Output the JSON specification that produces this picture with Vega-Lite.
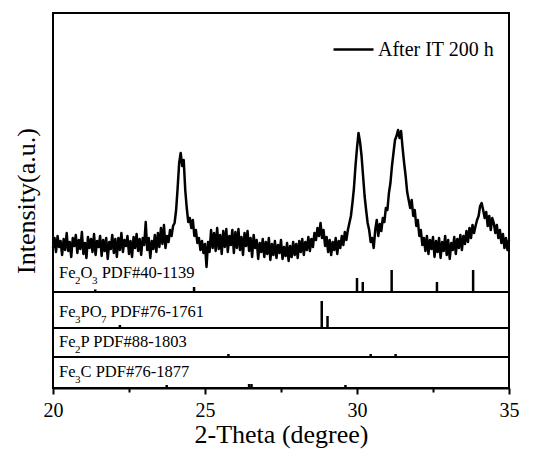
{
  "$schema": "https://vega.github.io/schema/vega-lite/v6.json",
  "width": 456,
  "height": 375,
  "autosize": {"type": "none"},
  "padding": {"left": 53, "top": 13, "right": 25, "bottom": 62},
  "background": "white",
  "datasets": {
    "xrd": [
      {"theta":20.00,"intensity":140},{"theta":20.05,"intensity":150},{"theta":20.10,"intensity":136},{"theta":20.15,"intensity":152},{"theta":20.20,"intensity":141},{"theta":20.25,"intensity":147},{"theta":20.30,"intensity":133},{"theta":20.35,"intensity":149},{"theta":20.40,"intensity":138},{"theta":20.45,"intensity":155},
      {"theta":20.50,"intensity":137},{"theta":20.55,"intensity":146},{"theta":20.60,"intensity":131},{"theta":20.65,"intensity":150},{"theta":20.70,"intensity":142},{"theta":20.75,"intensity":153},{"theta":20.80,"intensity":135},{"theta":20.85,"intensity":148},{"theta":20.90,"intensity":139},{"theta":20.95,"intensity":156},
      {"theta":21.00,"intensity":134},{"theta":21.05,"intensity":145},{"theta":21.10,"intensity":130},{"theta":21.15,"intensity":151},{"theta":21.20,"intensity":140},{"theta":21.25,"intensity":149},{"theta":21.30,"intensity":136},{"theta":21.35,"intensity":154},{"theta":21.40,"intensity":133},{"theta":21.45,"intensity":147},
      {"theta":21.50,"intensity":141},{"theta":21.55,"intensity":152},{"theta":21.60,"intensity":132},{"theta":21.65,"intensity":148},{"theta":21.70,"intensity":137},{"theta":21.75,"intensity":150},{"theta":21.80,"intensity":129},{"theta":21.85,"intensity":146},{"theta":21.90,"intensity":139},{"theta":21.95,"intensity":153},
      {"theta":22.00,"intensity":135},{"theta":22.05,"intensity":149},{"theta":22.10,"intensity":131},{"theta":22.15,"intensity":150},{"theta":22.20,"intensity":138},{"theta":22.25,"intensity":155},{"theta":22.30,"intensity":136},{"theta":22.35,"intensity":148},{"theta":22.40,"intensity":142},{"theta":22.45,"intensity":152},
      {"theta":22.50,"intensity":134},{"theta":22.55,"intensity":147},{"theta":22.60,"intensity":131},{"theta":22.65,"intensity":151},{"theta":22.70,"intensity":140},{"theta":22.75,"intensity":154},{"theta":22.80,"intensity":137},{"theta":22.85,"intensity":149},{"theta":22.90,"intensity":133},{"theta":22.95,"intensity":150},
      {"theta":23.00,"intensity":143},{"theta":23.05,"intensity":166},{"theta":23.10,"intensity":138},{"theta":23.15,"intensity":150},{"theta":23.20,"intensity":130},{"theta":23.25,"intensity":147},{"theta":23.30,"intensity":139},{"theta":23.35,"intensity":153},{"theta":23.40,"intensity":136},{"theta":23.45,"intensity":155},
      {"theta":23.50,"intensity":141},{"theta":23.55,"intensity":160},{"theta":23.60,"intensity":144},{"theta":23.65,"intensity":163},{"theta":23.70,"intensity":140},{"theta":23.75,"intensity":152},{"theta":23.80,"intensity":146},{"theta":23.85,"intensity":158},{"theta":23.90,"intensity":152},{"theta":23.95,"intensity":162},
      {"theta":24.00,"intensity":165},{"theta":24.05,"intensity":178},{"theta":24.10,"intensity":200},{"theta":24.15,"intensity":225},{"theta":24.20,"intensity":235},{"theta":24.25,"intensity":222},{"theta":24.30,"intensity":228},{"theta":24.35,"intensity":198},{"theta":24.40,"intensity":180},{"theta":24.45,"intensity":166},
      {"theta":24.50,"intensity":170},{"theta":24.55,"intensity":160},{"theta":24.60,"intensity":168},{"theta":24.65,"intensity":152},{"theta":24.70,"intensity":158},{"theta":24.75,"intensity":145},{"theta":24.80,"intensity":150},{"theta":24.85,"intensity":138},{"theta":24.90,"intensity":147},{"theta":24.95,"intensity":135},
      {"theta":25.00,"intensity":144},{"theta":25.05,"intensity":121},{"theta":25.10,"intensity":146},{"theta":25.15,"intensity":136},{"theta":25.20,"intensity":158},{"theta":25.25,"intensity":140},{"theta":25.30,"intensity":155},{"theta":25.35,"intensity":137},{"theta":25.40,"intensity":160},{"theta":25.45,"intensity":139},
      {"theta":25.50,"intensity":153},{"theta":25.55,"intensity":134},{"theta":25.60,"intensity":157},{"theta":25.65,"intensity":141},{"theta":25.70,"intensity":159},{"theta":25.75,"intensity":136},{"theta":25.80,"intensity":152},{"theta":25.85,"intensity":143},{"theta":25.90,"intensity":158},{"theta":25.95,"intensity":135},
      {"theta":26.00,"intensity":156},{"theta":26.05,"intensity":140},{"theta":26.10,"intensity":159},{"theta":26.15,"intensity":138},{"theta":26.20,"intensity":151},{"theta":26.25,"intensity":133},{"theta":26.30,"intensity":155},{"theta":26.35,"intensity":142},{"theta":26.40,"intensity":157},{"theta":26.45,"intensity":137},
      {"theta":26.50,"intensity":150},{"theta":26.55,"intensity":131},{"theta":26.60,"intensity":153},{"theta":26.65,"intensity":140},{"theta":26.70,"intensity":148},{"theta":26.75,"intensity":129},{"theta":26.80,"intensity":145},{"theta":26.85,"intensity":136},{"theta":26.90,"intensity":149},{"theta":26.95,"intensity":131},
      {"theta":27.00,"intensity":146},{"theta":27.05,"intensity":134},{"theta":27.10,"intensity":150},{"theta":27.15,"intensity":128},{"theta":27.20,"intensity":144},{"theta":27.25,"intensity":133},{"theta":27.30,"intensity":147},{"theta":27.35,"intensity":130},{"theta":27.40,"intensity":143},{"theta":27.45,"intensity":135},
      {"theta":27.50,"intensity":148},{"theta":27.55,"intensity":129},{"theta":27.60,"intensity":141},{"theta":27.65,"intensity":132},{"theta":27.70,"intensity":145},{"theta":27.75,"intensity":127},{"theta":27.80,"intensity":142},{"theta":27.85,"intensity":131},{"theta":27.90,"intensity":146},{"theta":27.95,"intensity":133},
      {"theta":28.00,"intensity":144},{"theta":28.05,"intensity":130},{"theta":28.10,"intensity":147},{"theta":28.15,"intensity":136},{"theta":28.20,"intensity":149},{"theta":28.25,"intensity":133},{"theta":28.30,"intensity":146},{"theta":28.35,"intensity":138},{"theta":28.40,"intensity":151},{"theta":28.45,"intensity":137},
      {"theta":28.50,"intensity":149},{"theta":28.55,"intensity":141},{"theta":28.60,"intensity":155},{"theta":28.65,"intensity":148},{"theta":28.70,"intensity":160},{"theta":28.75,"intensity":152},{"theta":28.80,"intensity":165},{"theta":28.85,"intensity":150},{"theta":28.90,"intensity":158},{"theta":28.95,"intensity":142},
      {"theta":29.00,"intensity":151},{"theta":29.05,"intensity":136},{"theta":29.10,"intensity":148},{"theta":29.15,"intensity":133},{"theta":29.20,"intensity":146},{"theta":29.25,"intensity":138},{"theta":29.30,"intensity":150},{"theta":29.35,"intensity":134},{"theta":29.40,"intensity":147},{"theta":29.45,"intensity":140},
      {"theta":29.50,"intensity":152},{"theta":29.55,"intensity":143},{"theta":29.60,"intensity":156},{"theta":29.65,"intensity":148},{"theta":29.70,"intensity":158},{"theta":29.75,"intensity":165},{"theta":29.80,"intensity":172},{"theta":29.85,"intensity":185},{"theta":29.90,"intensity":200},{"theta":29.95,"intensity":222},
      {"theta":30.00,"intensity":240},{"theta":30.05,"intensity":255},{"theta":30.10,"intensity":246},{"theta":30.15,"intensity":232},{"theta":30.20,"intensity":212},{"theta":30.25,"intensity":192},{"theta":30.30,"intensity":178},{"theta":30.35,"intensity":165},{"theta":30.40,"intensity":158},{"theta":30.45,"intensity":146},
      {"theta":30.50,"intensity":150},{"theta":30.55,"intensity":140},{"theta":30.60,"intensity":158},{"theta":30.65,"intensity":168},{"theta":30.70,"intensity":152},{"theta":30.75,"intensity":164},{"theta":30.80,"intensity":157},{"theta":30.85,"intensity":170},{"theta":30.90,"intensity":166},{"theta":30.95,"intensity":180},
      {"theta":31.00,"intensity":178},{"theta":31.05,"intensity":195},{"theta":31.10,"intensity":205},{"theta":31.15,"intensity":222},{"theta":31.20,"intensity":235},{"theta":31.25,"intensity":248},{"theta":31.30,"intensity":252},{"theta":31.35,"intensity":258},{"theta":31.40,"intensity":250},{"theta":31.45,"intensity":257},
      {"theta":31.50,"intensity":240},{"theta":31.55,"intensity":225},{"theta":31.60,"intensity":212},{"theta":31.65,"intensity":196},{"theta":31.70,"intensity":188},{"theta":31.75,"intensity":180},{"theta":31.80,"intensity":188},{"theta":31.85,"intensity":172},{"theta":31.90,"intensity":178},{"theta":31.95,"intensity":162},
      {"theta":32.00,"intensity":168},{"theta":32.05,"intensity":152},{"theta":32.10,"intensity":158},{"theta":32.15,"intensity":143},{"theta":32.20,"intensity":150},{"theta":32.25,"intensity":137},{"theta":32.30,"intensity":152},{"theta":32.35,"intensity":134},{"theta":32.40,"intensity":148},{"theta":32.45,"intensity":139},
      {"theta":32.50,"intensity":151},{"theta":32.55,"intensity":131},{"theta":32.60,"intensity":147},{"theta":32.65,"intensity":136},{"theta":32.70,"intensity":150},{"theta":32.75,"intensity":130},{"theta":32.80,"intensity":146},{"theta":32.85,"intensity":137},{"theta":32.90,"intensity":152},{"theta":32.95,"intensity":133},
      {"theta":33.00,"intensity":148},{"theta":33.05,"intensity":129},{"theta":33.10,"intensity":145},{"theta":33.15,"intensity":138},{"theta":33.20,"intensity":151},{"theta":33.25,"intensity":134},{"theta":33.30,"intensity":149},{"theta":33.35,"intensity":140},{"theta":33.40,"intensity":153},{"theta":33.45,"intensity":138},
      {"theta":33.50,"intensity":152},{"theta":33.55,"intensity":144},{"theta":33.60,"intensity":157},{"theta":33.65,"intensity":146},{"theta":33.70,"intensity":160},{"theta":33.75,"intensity":150},{"theta":33.80,"intensity":163},{"theta":33.85,"intensity":155},{"theta":33.90,"intensity":162},{"theta":33.95,"intensity":168},
      {"theta":34.00,"intensity":172},{"theta":34.05,"intensity":182},{"theta":34.10,"intensity":185},{"theta":34.15,"intensity":178},{"theta":34.20,"intensity":170},{"theta":34.25,"intensity":176},{"theta":34.30,"intensity":162},{"theta":34.35,"intensity":172},{"theta":34.40,"intensity":158},{"theta":34.45,"intensity":170},
      {"theta":34.50,"intensity":165},{"theta":34.55,"intensity":155},{"theta":34.60,"intensity":163},{"theta":34.65,"intensity":150},{"theta":34.70,"intensity":158},{"theta":34.75,"intensity":145},{"theta":34.80,"intensity":154},{"theta":34.85,"intensity":140},{"theta":34.90,"intensity":150},{"theta":34.95,"intensity":138},
      {"theta":35.00,"intensity":148}
    ],
    "sticks": [
      {"phase":"Fe2O3","theta":21.39,"y0":96,"y1":98.5},
      {"phase":"Fe2O3","theta":24.64,"y0":96,"y1":101},
      {"phase":"Fe2O3","theta":30.00,"y0":96,"y1":110},
      {"phase":"Fe2O3","theta":30.19,"y0":96,"y1":106},
      {"phase":"Fe2O3","theta":31.14,"y0":96,"y1":118},
      {"phase":"Fe2O3","theta":32.63,"y0":96,"y1":106},
      {"phase":"Fe2O3","theta":33.82,"y0":96,"y1":118},
      {"phase":"Fe3PO7","theta":22.20,"y0":60,"y1":63},
      {"phase":"Fe3PO7","theta":28.84,"y0":60,"y1":87},
      {"phase":"Fe3PO7","theta":29.03,"y0":60,"y1":72},
      {"phase":"Fe2P","theta":25.77,"y0":31,"y1":34},
      {"phase":"Fe2P","theta":30.45,"y0":31,"y1":34},
      {"phase":"Fe2P","theta":31.27,"y0":31,"y1":34},
      {"phase":"Fe3C","theta":23.74,"y0":0,"y1":3},
      {"phase":"Fe3C","theta":26.45,"y0":0,"y1":4},
      {"phase":"Fe3C","theta":26.53,"y0":0,"y1":4},
      {"phase":"Fe3C","theta":29.62,"y0":0,"y1":3}
    ],
    "labelText": [
      {"phase":"Fe2O3","theta":20.197,"y":115,"label":"Fe"},
      {"phase":"Fe2O3","theta":20.905,"y":115,"label":"O"},
      {"phase":"Fe2O3","theta":21.6,"y":115,"label":"PDF#40-1139"},
      {"phase":"Fe3PO7","theta":20.197,"y":76,"label":"Fe"},
      {"phase":"Fe3PO7","theta":20.905,"y":76,"label":"PO"},
      {"phase":"Fe3PO7","theta":21.89,"y":76,"label":"PDF#76-1761"},
      {"phase":"Fe2P","theta":20.197,"y":46,"label":"Fe"},
      {"phase":"Fe2P","theta":20.905,"y":46,"label":"P PDF#88-1803"},
      {"phase":"Fe3C","theta":20.197,"y":16,"label":"Fe"},
      {"phase":"Fe3C","theta":20.905,"y":16,"label":"C PDF#76-1877"}
    ],
    "labelSubscripts": [
      {"phase":"Fe2O3","theta":20.724,"y":115,"label":"2"},
      {"phase":"Fe2O3","theta":21.283,"y":115,"label":"3"},
      {"phase":"Fe3PO7","theta":20.724,"y":76,"label":"3"},
      {"phase":"Fe3PO7","theta":21.577,"y":76,"label":"7"},
      {"phase":"Fe2P","theta":20.724,"y":46,"label":"2"},
      {"phase":"Fe3C","theta":20.724,"y":16,"label":"3"}
    ],
    "dividers": [
      {"y":96},{"y":60},{"y":31}
    ]
  },
  "layer": [
    {
      "data": {"name": "xrd"},
      "mark": {"type": "line", "strokeWidth": 2.5, "strokeJoin": "round"},
      "encoding": {
        "x": {
          "field": "theta", "type": "quantitative",
          "scale": {"domain": [20, 35], "nice": false, "zero": false},
          "title": "2-Theta (degree)",
          "axis": {
            "values": [20, 22.5, 25, 27.5, 30, 32.5, 35],
            "labelExpr": "datum.value % 5 === 0 ? '' + datum.value : ''",
            "tickSize": {"condition": {"test": "datum.value % 5 === 0", "value": 6}, "value": 4},
            "tickWidth": 2,
            "domainWidth": 2,
            "labelFontSize": 20,
            "labelPadding": 6,
            "labelFlush": false,
            "labelOverlap": false,
            "titleFontSize": 26,
            "titlePadding": 1
          }
        },
        "y": {
          "field": "intensity", "type": "quantitative",
          "scale": {"domain": [0, 375], "nice": false, "zero": false},
          "title": "Intensity(a.u.)",
          "axis": {
            "labels": false, "ticks": false, "domain": false,
            "titleFontSize": 26, "titlePadding": 14
          }
        },
        "color": {
          "datum": "After IT 200 h",
          "scale": {"range": ["black"]},
          "legend": {
            "orient": "none", "legendX": 279, "legendY": 15,
            "title": null, "symbolType": "stroke", "symbolSize": 1600,
            "symbolStrokeWidth": 2.5, "symbolStrokeColor": "black",
            "labelFont": "Liberation Serif", "labelFontSize": 20,
            "labelColor": "black", "labelOffset": 3, "padding": 0
          }
        }
      }
    },
    {
      "data": {"name": "dividers"},
      "mark": {"type": "rule", "color": "black", "strokeWidth": 2},
      "encoding": {
        "y": {"field": "y", "type": "quantitative", "title": "Intensity(a.u.)"}
      }
    },
    {
      "data": {"name": "sticks"},
      "mark": {"type": "rule", "color": "black", "strokeWidth": 2.5},
      "encoding": {
        "x": {"field": "theta", "type": "quantitative", "title": "2-Theta (degree)"},
        "y": {"field": "y0", "type": "quantitative", "title": "Intensity(a.u.)"},
        "y2": {"field": "y1"}
      }
    },
    {
      "data": {"name": "labelText"},
      "mark": {"type": "text", "align": "left", "baseline": "middle", "font": "Liberation Serif", "fontSize": 16.5, "color": "black"},
      "encoding": {
        "x": {"field": "theta", "type": "quantitative", "title": "2-Theta (degree)"},
        "y": {"field": "y", "type": "quantitative", "title": "Intensity(a.u.)"},
        "text": {"field": "label"}
      }
    },
    {
      "data": {"name": "labelSubscripts"},
      "mark": {"type": "text", "align": "left", "baseline": "middle", "dy": 8, "font": "Liberation Serif", "fontSize": 11, "color": "black"},
      "encoding": {
        "x": {"field": "theta", "type": "quantitative", "title": "2-Theta (degree)"},
        "y": {"field": "y", "type": "quantitative", "title": "Intensity(a.u.)"},
        "text": {"field": "label"}
      }
    }
  ],
  "config": {
    "view": {"stroke": "black", "strokeWidth": 2},
    "axis": {
      "grid": false,
      "domainColor": "black",
      "tickColor": "black",
      "labelColor": "black",
      "titleColor": "black",
      "labelFont": "Liberation Serif",
      "titleFont": "Liberation Serif",
      "titleFontWeight": "normal"
    }
  }
}
